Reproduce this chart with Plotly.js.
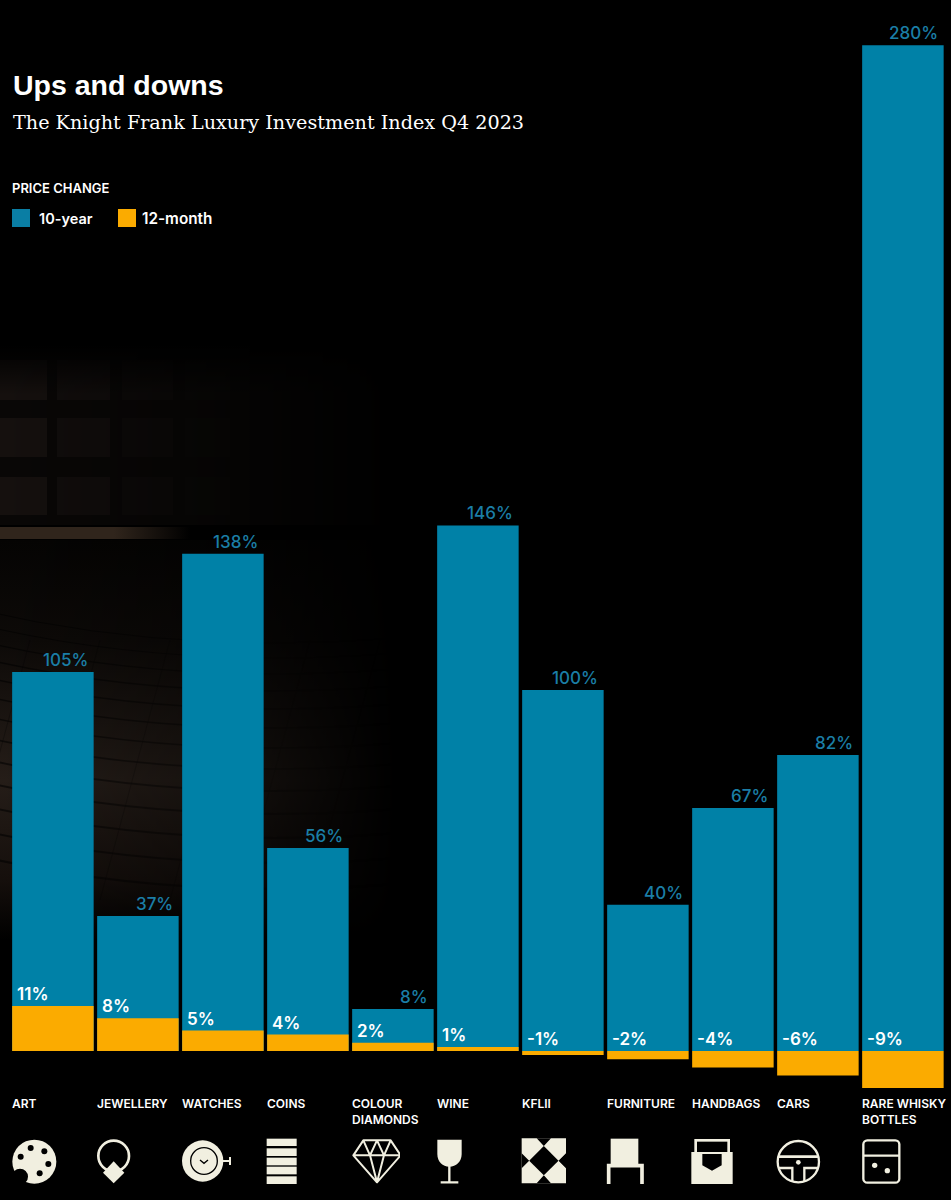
<!DOCTYPE html>
<html><head><meta charset="utf-8">
<script src="https://cdn.plot.ly/plotly-3.0.1.min.js"></script>
<style>html,body{margin:0;padding:0;background:#000;}#chart{width:951px;height:1200px;}</style>
</head><body><div id="chart"></div>
<script>
const categories = ["ART","JEWELLERY","WATCHES","COINS","COLOUR DIAMONDS","WINE","KFLII","FURNITURE","HANDBAGS","CARS","RARE WHISKY BOTTLES"];
const tenYearLabels = [105,37,138,56,8,146,100,40,67,82,280];
const tenYearDrawn = [105.3,37.5,138.1,56.4,11.7,146,100.3,40.6,67.5,82.2,279.4];
const twelveMonth = [11,8,5,4,2,1,-1,-2,-4,-6,-9];
const tickLines = ["ART","JEWELLERY","WATCHES","COINS","COLOUR<br>DIAMONDS","WINE","KFLII","FURNITURE","HANDBAGS","CARS","RARE WHISKY<br>BOTTLES"];

const BLUE="#0081a7", ORANGE="#fbab00", CREAM="#f1efe0", LABELBLUE="#1b7ea6";
const W=951,H=1200,BASE=1051;
const sans="Inter, 'Liberation Sans', sans-serif";
const helv="'Liberation Sans', Arial, sans-serif";
const k1=3.6,k2=4.1;

function svgURI(vb,body,w,h){
  const s=`<svg xmlns="http://www.w3.org/2000/svg" viewBox="${vb}" width="${w||300}" height="${h||300}" preserveAspectRatio="none">${body}</svg>`;
  return "data:image/svg+xml;charset=utf-8,"+encodeURIComponent(s);
}
const C=CREAM;
const iconBodies=[
 [30,`<circle cx="103" cy="245" r="66" fill="${C}"/><circle cx="60" cy="290" r="24" fill="#000"/><circle cx="92" cy="204" r="9" fill="#000"/><circle cx="133" cy="214" r="9" fill="#000"/><circle cx="145" cy="252" r="9" fill="#000"/><circle cx="119" cy="280" r="9" fill="#000"/><circle cx="62" cy="230" r="9" fill="#000"/>`],
 [285,`<circle cx="341" cy="228" r="46" fill="none" stroke="${C}" stroke-width="8"/><path d="M341 244L373 278L341 310L309 278Z" fill="${C}"/>`],
 [545,`<circle cx="608" cy="243" r="62" fill="${C}"/><circle cx="612" cy="243" r="40" fill="none" stroke="#000" stroke-width="4"/><path d="M600 240L612 250L624 240" fill="none" stroke="#000" stroke-width="4"/><path d="M668 243H690M690 231V255" stroke="${C}" stroke-width="6" fill="none"/>`],
 [795,`<rect x="800" y="176" width="90" height="22" fill="${C}"/><rect x="800" y="205" width="90" height="23" fill="${C}"/><rect x="800" y="233" width="90" height="23" fill="${C}"/><rect x="800" y="260" width="90" height="23" fill="${C}"/><rect x="800" y="289" width="90" height="23" fill="${C}"/>`],
 [1050,`<path d="M1090 181H1172L1202 226L1131 307L1060 226ZM1060 226H1202M1090 181L1110 226L1131 307L1152 226L1172 181M1110 226L1131 181L1152 226" fill="none" stroke="${C}" stroke-width="6" stroke-linejoin="round"/>`],
 [1305,`<path d="M1312 179H1385V222C1385 245 1368 260 1348 260C1328 260 1312 245 1312 222Z" fill="${C}"/><path d="M1348 258V305M1322 307H1375" stroke="${C}" stroke-width="7" fill="none"/>`],
 [120,`<path d="M125 175H258V310H125Z" fill="${C}"/><path d="M191.5 198L235.500 242L191.5 286L147.500 242Z" fill="#000"/><path d="M170 175L191.5 198L213 175ZM170 310L191.5 286L213 310ZM125 220L147.500 242L125 265ZM258 220L235.500 242L258 265Z" fill="#000"/>`],
 [375,`<rect x="392" y="176" width="83" height="82" fill="${C}"/><path d="M386 312V257H486V312" fill="none" stroke="${C}" stroke-width="11"/>`],
 [630,`<rect x="647" y="181" width="99" height="40" fill="none" stroke="${C}" stroke-width="8"/><rect x="634" y="216" width="124" height="96" fill="${C}"/><path d="M667 222H725V256L696 272L667 256Z" fill="#000"/>`],
 [885,`<circle cx="955" cy="245" r="62" fill="none" stroke="${C}" stroke-width="7"/><path d="M895 230H1015" stroke="${C}" stroke-width="8"/><path d="M896 264H937V305M1014 264H973V305" fill="none" stroke="${C}" stroke-width="7"/><circle cx="955" cy="247" r="7" fill="${C}"/>`],
 [1140,`<rect x="1150" y="181" width="108" height="127" rx="12" fill="none" stroke="${C}" stroke-width="7"/><path d="M1150 227H1258" stroke="${C}" stroke-width="7"/><circle cx="1184" cy="256" r="8" fill="${C}"/><circle cx="1222" cy="272" r="8" fill="${C}"/>`]
];
const iconOffset=[0,0,0,0,0,0,480,480,480,480,480];
const images=iconBodies.map((ib,i)=>({
  source:svgURI(`${ib[0]} 170 150 150`,ib[1]),
  xref:"paper",yref:"paper",xanchor:"left",yanchor:"top",sizing:"stretch",
  x:(iconOffset[i]+ib[0]/3)/W, y:1-(1080+170/3)/H, sizex:50/W, sizey:50/H, layer:"above"
}));

// faint photographic backdrop
let panels="";
[[360,400],[418,457],[477,515]].forEach(r=>[[0,47],[57,110],[122,173],[185,230]].forEach((c,i)=>{
  panels+=`<rect x="${c[0]}" y="${r[0]}" width="${c[1]-c[0]}" height="${r[1]-r[0]}" fill="#171210" opacity="${[0.9,0.6,0.35,0.14][i]}"/>`;
}));
let cobbles="";
[640,655,671,688,706,725,745,766,788,811,835,860,886].forEach((y,i)=>{
  cobbles+=`<path d="M-20 ${y-30}Q200 ${y+22} 460 ${y-8}" fill="none" stroke="#000" stroke-width="${1+i*0.1}" opacity="0.55"/>`;
});
[-40,30,100,170,240,310,380].forEach(x=>{cobbles+=`<path d="M${x} 640L${x-70} 900" stroke="#000" stroke-width="1" opacity="0.28"/>`;});
const bgBody=`<defs>
<linearGradient id="f" x1="0" x2="1" y1="0" y2="0"><stop offset="0" stop-color="#fff"/><stop offset="0.5" stop-color="#999"/><stop offset="0.9" stop-color="#000"/></linearGradient>
<linearGradient id="b" x1="0" x2="1" y1="0" y2="0"><stop offset="0" stop-color="#30251c"/><stop offset="0.6" stop-color="#30251c"/><stop offset="1" stop-color="#30251c" stop-opacity="0"/></linearGradient>
<linearGradient id="t" x1="0" x2="0" y1="0" y2="1"><stop offset="0" stop-color="#000"/><stop offset="1" stop-color="#000" stop-opacity="0"/></linearGradient>
<linearGradient id="v" x1="0" x2="0" y1="0" y2="1"><stop offset="0" stop-color="#050403"/><stop offset="0.25" stop-color="#0d0a08"/><stop offset="0.6" stop-color="#251d18"/><stop offset="0.85" stop-color="#150f0c"/><stop offset="1" stop-color="#000"/></linearGradient>
<mask id="m" maskUnits="userSpaceOnUse" x="0" y="300" width="440" height="640"><rect x="0" y="300" width="440" height="640" fill="url(#f)"/></mask></defs>
<g mask="url(#m)"><rect x="0" y="345" width="440" height="180" fill="#090706"/>${panels}
<rect x="0" y="345" width="440" height="50" fill="url(#t)"/>
<rect x="0" y="540" width="440" height="400" fill="url(#v)"/></g>
<rect x="0" y="527" width="190" height="12" fill="url(#b)"/>
<g mask="url(#m)">${cobbles}</g>`;
images.unshift({source:svgURI("0 300 440 640",bgBody,440,640),xref:"paper",yref:"paper",xanchor:"left",yanchor:"top",sizing:"stretch",x:0,y:1-300/H,sizex:440/W,sizey:640/H,layer:"below"});

const annotations=[];
function txt(text,x,y,font){annotations.push({text,xref:"paper",yref:"paper",x:x/W,y:1-y/H,showarrow:false,xanchor:"left",yanchor:"middle",align:"left",borderpad:0,font});}
txt("Ups and downs",11.5,85,{family:helv,size:28.5,color:"#ffffff",weight:700});
txt("The Knight Frank Luxury Investment Index Q4 2023",12,122,{family:"'DejaVu Serif',serif",size:19.2,color:"#ffffff"});
txt("PRICE CHANGE",11,188,{family:sans,size:13,color:"#ffffff",weight:600});
txt("10-year",37.5,218.5,{family:sans,size:14.5,color:"#ffffff",weight:600});
txt("12-month",140.5,218.5,{family:sans,size:15.3,color:"#ffffff",weight:600});

categories.forEach((c,i)=>{
  annotations.push({text:tenYearLabels[i]+"%",xref:"x",yref:"y",x:c,y:tenYearDrawn[i],xanchor:"right",yanchor:"bottom",xshift:36,yshift:1,showarrow:false,borderpad:0,font:{family:sans,size:17,color:LABELBLUE,weight:500}});
  annotations.push({text:twelveMonth[i]+"%",xref:"x",yref:"y2",x:c,y:Math.max(twelveMonth[i],0),xanchor:"left",yanchor:"bottom",xshift:-37,yshift:1,showarrow:false,borderpad:0,font:{family:sans,size:17,color:"#ffffff",weight:600}});
  annotations.push({text:tickLines[i],xref:"x",yref:"paper",x:c,y:1-1095/H,xanchor:"left",yanchor:"top",align:"left",xshift:-41.5,showarrow:false,borderpad:0,font:{family:sans,size:12,color:"#ffffff",weight:600}});
});

const shapes=[
 {type:"rect",xref:"paper",yref:"paper",x0:12/W,x1:30/W,y0:1-209/H,y1:1-227/H,fillcolor:"#0a7ea4",line:{width:0}},
 {type:"rect",xref:"paper",yref:"paper",x0:118/W,x1:136/W,y0:1-209/H,y1:1-227/H,fillcolor:ORANGE,line:{width:0}}
];

const data=[
 {type:"bar",name:"10-year",x:categories,y:tenYearDrawn,yaxis:"y",marker:{color:BLUE,line:{width:0}},hoverinfo:"x+name",text:tenYearLabels.map(v=>v+"%"),textposition:"none"},
 {type:"bar",name:"12-month",x:categories,y:twelveMonth,yaxis:"y2",marker:{color:ORANGE,line:{width:0}},hoverinfo:"x+name",text:twelveMonth.map(v=>v+"%"),textposition:"none"}
];
const xPad=(12-1.6)/85;
const layout={
 width:W,height:H,margin:{l:0,r:0,t:0,b:0,pad:0},paper_bgcolor:"#000",plot_bgcolor:"rgba(0,0,0,0)",showlegend:false,bargap:3.5/85,
 xaxis:{type:"category",categoryorder:"array",categoryarray:categories,range:[-0.5-xPad,-0.5-xPad+W/85],visible:false,fixedrange:true},
 yaxis:{domain:[0,1],range:[-(H-BASE)/k1,BASE/k1],visible:false,fixedrange:true,zeroline:false},
 yaxis2:{domain:[0,1],overlaying:"y",range:[-(H-BASE)/k2,BASE/k2],visible:false,fixedrange:true,zeroline:false},
 annotations,shapes,images,font:{family:sans}
};
Plotly.newPlot("chart",data,layout,{displayModeBar:false,staticPlot:true});
</script></body></html>
